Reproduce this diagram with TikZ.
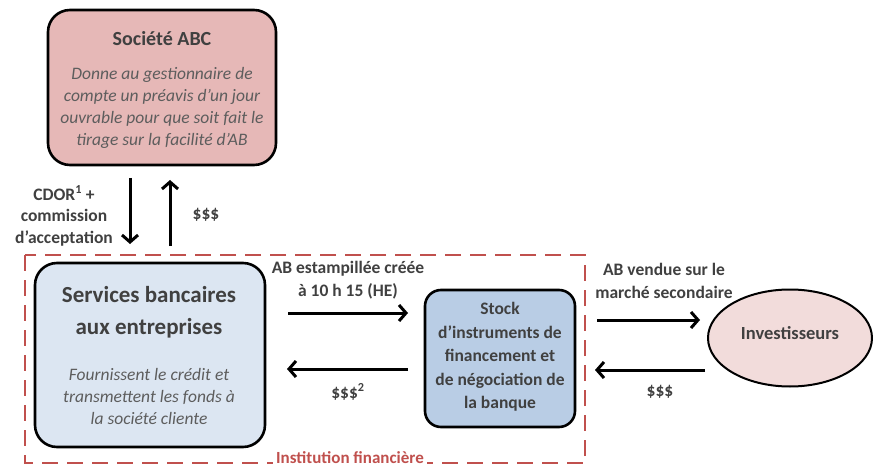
\documentclass[tikz,border=0pt]{standalone}
\usepackage{fontspec}
\setmainfont{Carlito}
\usetikzlibrary{arrows.meta,shapes.geometric}
\definecolor{abcpink}{RGB}{230,184,183}
\definecolor{svcblue}{RGB}{220,230,242}
\definecolor{stockblue}{RGB}{185,205,229}
\definecolor{invpink}{RGB}{242,220,219}
\definecolor{instred}{RGB}{192,80,77}
\definecolor{txtgray}{RGB}{64,64,64}
\tikzset{
  box/.style={draw,line width=2.6pt,rounded corners=22pt,inner sep=0pt},
  flow/.style={line width=3pt,-{Straight Barb[length=7pt,width=16pt,line width=3pt]}},
  lbl/.style={font=\fontsize{17.5}{22.5}\selectfont\bfseries,text=txtgray,align=center},
  note/.style={font=\fontsize{17.5}{22}\selectfont\itshape,text=txtgray!85,align=center},
}
\begin{document}
\begin{tikzpicture}[x=1pt,y=-1pt]
\useasboundingbox (0,0) rectangle (873,468);

% institution financiere
\draw[instred,line width=2.8pt,dash pattern=on 16pt off 9pt] (25,255) rectangle (585,463);
\node[font=\fontsize{17}{18}\selectfont\bfseries,text=instred,fill=white,inner sep=3pt] (inst) at (350,458) {Institution financière};

% boxes
\node[box,fill=abcpink,minimum width=228,minimum height=155] (abc) at (162,87.5) {};
\node[font=\fontsize{20}{22}\selectfont\bfseries,text=txtgray] (abctitle) at (162,39) {Société ABC};
\node[note] (abcnote) at (162,108) {Donne au gestionnaire de\\compte un préavis d’un jour\\ouvrable pour que soit fait le\\tirage sur la facilité d’AB};

\node[box,fill=svcblue,minimum width=230,minimum height=184] (svc) at (150,355) {};
\node[font=\fontsize{23}{32}\selectfont\bfseries,text=txtgray,align=center] (svctitle) at (149,312) {Services bancaires\\aux entreprises};
\node[note] (svcnote) at (149,396) {Fournissent le crédit et\\transmettent les fonds à\\la société cliente};

\node[box,fill=stockblue,minimum width=150,minimum height=137,rounded corners=16pt] (stock) at (500,358.5) {};
\node[lbl,font=\fontsize{17.5}{23.5}\selectfont\bfseries] (stocktext) at (500,357) {Stock\\d’instruments de\\financement et\\de négociation de\\la banque};

\node[draw,line width=2pt,ellipse,fill=invpink,minimum width=164,minimum height=97] (inv) at (790,338) {};
\node[font=\fontsize{18.5}{20}\selectfont\bfseries,text=txtgray] (invtext) at (790,333) {Investisseurs};

% fleches
\coordinate (d1) at (130,178); \coordinate (d2) at (130,244);
\coordinate (u1) at (170,246); \coordinate (u2) at (170,180);
\draw[flow] (d1) -- (d2);
\draw[flow] (u1) -- (u2);
\node[lbl,font=\fontsize{17.5}{21.5}\selectfont\bfseries] (cdor) at (64,216) {CDOR\textsuperscript{1} +\\commission\\d’acceptation};
\node[lbl] (paid) at (206,215) {\$\$\$};

\coordinate (s1) at (288,313); \coordinate (s2) at (408,313);
\coordinate (s3) at (408,369); \coordinate (s4) at (287,369);
\draw[flow] (s1) -- (s2);
\draw[flow] (s3) -- (s4);
\node[lbl] (stamp) at (348,280) {AB estampillée créée\\à 10 h 15 (HE)};
\node[lbl] (cash) at (348,392) {\$\$\$\textsuperscript{2}};

\coordinate (m1) at (597,320); \coordinate (m2) at (700,320);
\coordinate (m3) at (705,370); \coordinate (m4) at (595,370);
\draw[flow] (m1) -- (m2);
\draw[flow] (m3) -- (m4);
\node[lbl] (sold) at (664,281) {AB vendue sur le\\marché secondaire};
\node[lbl] (back) at (660,392) {\$\$\$};
\end{tikzpicture}
\end{document}
